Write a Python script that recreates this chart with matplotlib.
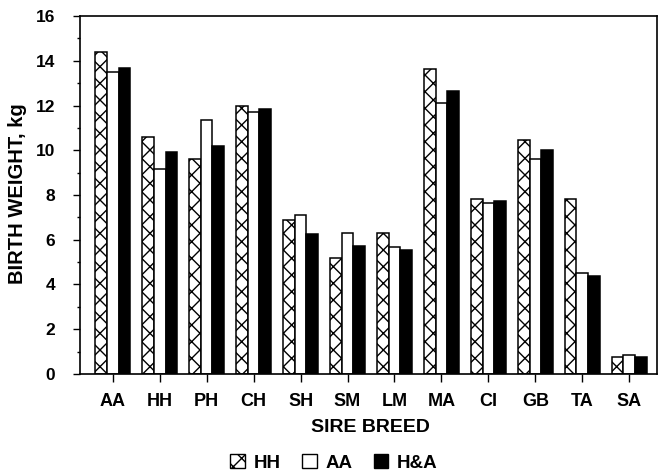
import numpy as np
import matplotlib
matplotlib.use("Agg")
import matplotlib.pyplot as plt
from matplotlib.ticker import MultipleLocator
from matplotlib.patches import Patch

plt.rcParams['font.family'] = ['Liberation Sans', 'DejaVu Sans']
plt.rcParams['font.weight'] = 'bold'
plt.rcParams['hatch.linewidth'] = 1.0

breeds = ["AA", "HH", "PH", "CH", "SH", "SM", "LM", "MA", "CI", "GB", "TA", "SA"]
series_names = ["HH", "AA", "H&A"]
hh = [14.4, 10.6, 9.6, 12.0, 6.9, 5.2, 6.3, 13.65, 7.82, 10.47, 7.82, 0.75]
aa = [13.5, 9.17, 11.37, 11.69, 7.12, 6.31, 5.67, 12.12, 7.63, 9.6, 4.51, 0.84]
ha = [13.69, 9.9, 10.17, 11.85, 6.27, 5.73, 5.52, 12.66, 7.72, 10.03, 4.39, 0.78]

fig = plt.figure(figsize=(6.6, 4.74), dpi=100)
ax = fig.add_axes([0.1212, 0.211, 0.9955 - 0.1212, 0.9662 - 0.211])

x = np.arange(len(breeds))
w = 0.25
ax.bar(x - w, hh, w, facecolor='white', edgecolor='black', hatch='xx', linewidth=1.1)
ax.bar(x, aa, w, facecolor='white', edgecolor='black', linewidth=1.1)
ax.bar(x + w, ha, w, facecolor='black', edgecolor='black', linewidth=1.1)

ax.set_xlim(-0.696, 11.59)
ax.set_ylim(0, 16)
ax.set_xticks(x)
ax.set_xticklabels(breeds, fontsize=13, fontweight='bold')
ax.yaxis.set_major_locator(MultipleLocator(2))
ax.yaxis.set_minor_locator(MultipleLocator(1))
ax.tick_params(axis='y', which='major', length=5, width=1, pad=13, labelsize=12.5, direction='out')
ax.tick_params(axis='y', which='minor', length=2.5, width=1, direction='out')
ax.tick_params(axis='x', which='major', length=6, width=1, pad=8, labelsize=13, direction='out')
for lab in ax.get_yticklabels():
    lab.set_fontweight('bold')
for sp in ax.spines.values():
    sp.set_linewidth(1.2)

ax.set_xlabel("SIRE BREED", fontsize=14, fontweight='bold')
ax.xaxis.set_label_coords(0.504, -0.1257)
ax.xaxis.label.set_va('top')
ax.set_ylabel("BIRTH WEIGHT, kg", fontsize=14.5, fontweight='bold')
ax.yaxis.set_label_coords(-0.092, 0.504)

handles = [Patch(facecolor='white', edgecolor='black', hatch='xx', linewidth=1.0),
           Patch(facecolor='white', edgecolor='black', linewidth=1.0),
           Patch(facecolor='black', edgecolor='black', linewidth=1.0)]
fig.legend(handles, series_names, loc='center', bbox_to_anchor=(0.506, 0.023),
           ncol=3, frameon=False, handlelength=0.78, handleheight=0.72,
           handletextpad=0.45, columnspacing=1.15, borderpad=0.0,
           prop={'weight': 'bold', 'size': 13.5})

fig.savefig("out.png", dpi=100)
